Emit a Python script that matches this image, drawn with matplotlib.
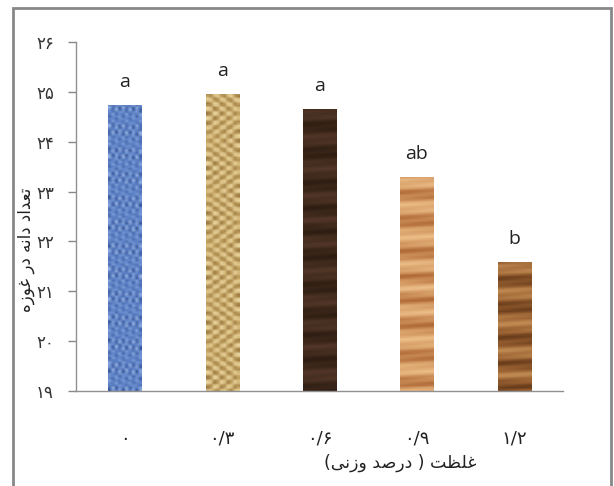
import numpy as np
import matplotlib
matplotlib.use('Agg')
import matplotlib.pyplot as plt
from matplotlib.colors import LinearSegmentedColormap
from matplotlib.patches import Rectangle

# concentration (weight %) and mean values
x_labels = ['۰', '۰/۳', '۰/۶', '۰/۹', '۱/۲']
values = [24.74, 24.96, 24.66, 23.30, 21.58]
letters = ['a', 'a', 'a', 'ab', 'b']
y_ticks = [19, 20, 21, 22, 23, 24, 25, 26]
y_tick_labels = ['۱۹', '۲۰', '۲۱', '۲۲', '۲۳', '۲۴', '۲۵', '۲۶']

# persian text in visual (left to right) order, presentation forms
# "تعداد دانه در غوزه"
y_title = ('\uFEE9\uFEAF\uFEEE\uFECF' + ' ' + '\uFEAD\uFEA9' + ' ' +
           '\uFEEA\uFEE7\uFE8D\uFEA9' + ' ' + '\uFEA9\uFE8D\uFEAA\uFECC\uFE97')
# "غلظت ( درصد وزنی)"
x_title = ('(' + '\uFEF0\uFEE7\uFEAF\uFEED' + ' ' + '\uFEAA\uFEBB\uFEAD\uFEA9' +
           ' ) ' + '\uFE96\uFEC8\uFEE0\uFECF')

fa_font = 'DejaVu Sans'

fig = plt.figure(figsize=(6.14, 4.86), dpi=100)
fig.patch.set_facecolor('white')
ax = fig.add_axes([76/614, 1-391/486, (563-76)/614, (391-42)/486])

# outer grey frame (bottom edge is off the picture)
frame = Rectangle((13/614, -0.2), (611-13)/614, 1.2 - 8/486, transform=fig.transFigure,
                  fill=False, edgecolor='#888888', linewidth=2.0, zorder=0)
fig.add_artist(frame)


def make_texture(kind, rows, cols):
    i = np.arange(rows)[:, None]
    j = np.arange(cols)[None, :]
    if kind == 'denim':
        t = 0.5 + 0.25*np.sin(i*1.9 + j*0.7)*np.cos(j*2.3 - i*0.4) + 0.2*np.sin(i*0.9 + j*3.1)
    elif kind == 'burlap':
        t = 0.35 + 0.4*(((i // 2) + (j // 2)) % 2) + 0.15*np.sin(i*1.3)*np.cos(j*1.7)
    else:
        t = 0.5 + 0.3*np.sin(i*0.55 + 0.8*np.sin(i*0.13)) + 0.15*np.sin(i*1.7 + j*0.2)
    return np.clip(t, 0, 1)


styles = [
    ('denim', ['#27458a', '#5f84c8', '#a9c2ec']),
    ('burlap', ['#7a5a28', '#c9a866', '#f3e2b0']),
    ('wood', ['#2a1a10', '#3f2a1c', '#56392a']),
    ('wood', ['#a8602e', '#d49a64', '#f0c48e']),
    ('wood', ['#5e3416', '#9a6232', '#c8945a']),
]

xpos = np.arange(len(values))
width = 0.34
bars = ax.bar(xpos, np.array(values) - 19, width=width, bottom=19,
              color='none', edgecolor='none', zorder=2)

for k, b in enumerate(bars):
    kind, cols = styles[k]
    cmap = LinearSegmentedColormap.from_list('t%d' % k, cols)
    h = values[k] - 19
    tex = make_texture(kind, int(h*22), 10)
    im = ax.imshow(tex, cmap=cmap, vmin=0, vmax=1, aspect='auto',
                   extent=[xpos[k]-width/2, xpos[k]+width/2, 19, values[k]],
                   interpolation='bilinear', zorder=2)
    im.set_clip_path(b)
    ax.annotate(letters[k], (xpos[k], values[k]), xytext=(0, 10), textcoords='offset points',
                ha='center', va='bottom', fontsize=14, family='Open Sans', color='#222222')

ax.set_xlim(-0.5, 4.5)
ax.set_ylim(19, 26)
ax.set_yticks(y_ticks)
ax.set_yticklabels(y_tick_labels, family=fa_font, fontsize=12, color='#333333')
ax.set_xticks(xpos)
ax.set_xticklabels(x_labels, family=fa_font, fontsize=13, color='#222222')
ax.tick_params(axis='y', direction='out', length=6, width=1, color='#888888', pad=10)
ax.tick_params(axis='x', length=0, pad=28)

for s in ['top', 'right']:
    ax.spines[s].set_visible(False)
for s in ['left', 'bottom']:
    ax.spines[s].set_color('#909090')
    ax.spines[s].set_linewidth(1.0)

fig.text(400/614, 1-463/486, x_title, family=fa_font, fontsize=12.5, ha='center', va='center',
         color='#222222')
fig.text(26/614, 1-250/486, y_title, family=fa_font, fontsize=12, ha='center', va='center',
         rotation=90, color='#222222')

fig.savefig('out.png', dpi=100)
